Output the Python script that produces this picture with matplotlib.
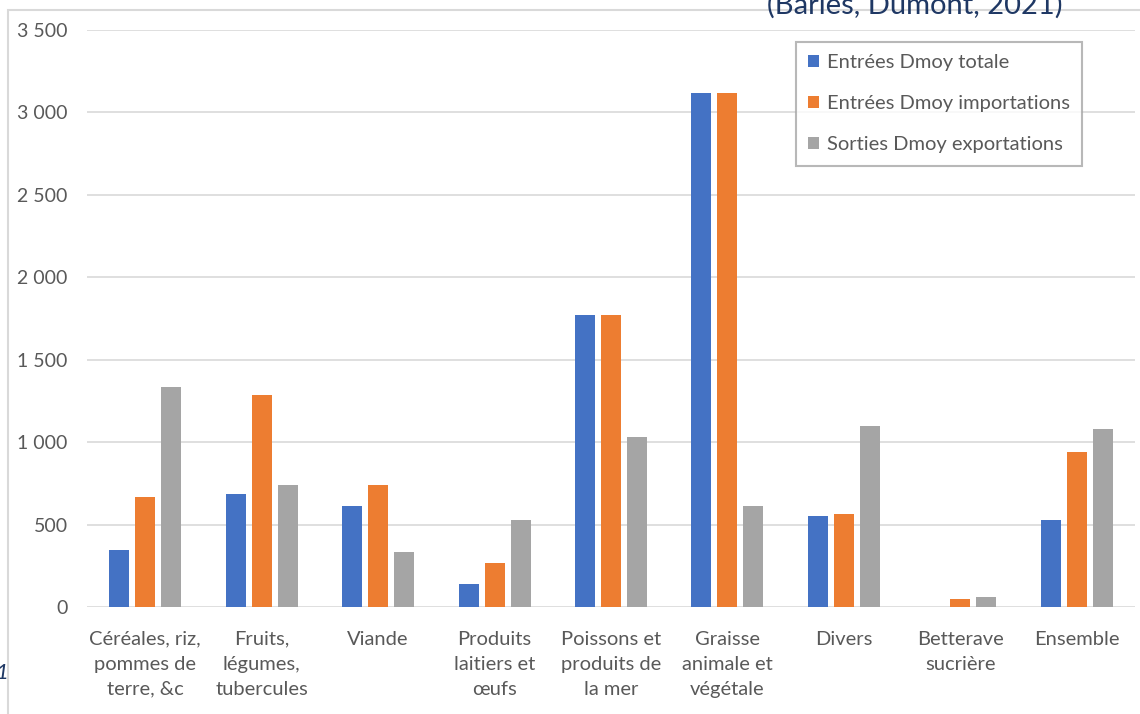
import matplotlib
matplotlib.use("Agg")
import matplotlib.pyplot as plt
from matplotlib.patches import Rectangle
from matplotlib.ticker import FuncFormatter
import numpy as np

plt.rcParams['font.family'] = ['Lato', 'DejaVu Sans']

categories = [
    "Céréales, riz,\npommes de\nterre, &c",
    "Fruits,\nlégumes,\ntubercules",
    "Viande",
    "Produits\nlaitiers et\nœufs",
    "Poissons et\nproduits de\nla mer",
    "Graisse\nanimale et\nvégétale",
    "Divers",
    "Betterave\nsucrière",
    "Ensemble",
]
entrees_totale = [345, 688, 612, 142, 1772, 3115, 555, 0, 528]
entrees_importations = [668, 1287, 741, 264, 1772, 3115, 563, 51, 940]
sorties_exportations = [1332, 741, 336, 530, 1033, 613, 1097, 61, 1080]
series_labels = ["Entrées Dmoy totale", "Entrées Dmoy importations",
                 "Sorties Dmoy exportations"]
series_colors = ["#4472C4", "#ED7D31", "#A5A5A5"]
y_ticks = [0, 500, 1000, 1500, 2000, 2500, 3000, 3500]

W, H = 1140, 714
fig = plt.figure(figsize=(W / 100, H / 100), dpi=100)

# chart-area frame (partly outside the canvas)
fig.patches.append(Rectangle((8 / W, -0.1), 1.2, 1 - 10 / H + 0.1,
                             transform=fig.transFigure, fill=False,
                             edgecolor="#d9d9d9", linewidth=1.5))

ax = fig.add_axes([87 / W, 1 - 607 / H, (1135 - 87) / W, (607 - 30) / H])
x = np.arange(len(categories))
step = 0.223
width = 0.172
for i, (vals, lab, col) in enumerate(zip(
        [entrees_totale, entrees_importations, sorties_exportations],
        series_labels, series_colors)):
    ax.bar(x + (i - 1) * step, vals, width=width, color=col, label=lab, zorder=3)

ax.set_xlim(-0.5, len(categories) - 0.5)
ax.set_ylim(0, 3500)
ax.set_yticks(y_ticks)
ax.yaxis.set_major_formatter(FuncFormatter(
    lambda v, p: f"{int(v):,}".replace(",", " ")))
ax.grid(axis="y", color="#d9d9d9", linewidth=1.2, zorder=0)
for s in ax.spines.values():
    s.set_visible(False)
ax.tick_params(axis="y", length=0, pad=14, labelsize=14, labelcolor="#595959")
ax.set_xticks(x)
ax.set_xticklabels(categories, fontsize=14.5, color="#595959", linespacing=1.58)
ax.tick_params(axis="x", length=0, pad=17)

leg = ax.legend(loc="upper right", bbox_to_anchor=(1082 / W, 1 - 42 / H),
                bbox_transform=fig.transFigure, frameon=True, fancybox=False,
                fontsize=14.5, labelcolor="#595959", handlelength=0.55,
                handleheight=0.55, handletextpad=0.4, labelspacing=1.2,
                borderpad=0.6, borderaxespad=0)
leg.get_frame().set_edgecolor("#a6a6a6")
leg.get_frame().set_linewidth(1.5)

fig.text(915 / W, 1 - 14 / H, "(Barles, Dumont, 2021)", ha="center",
         va="baseline", fontsize=21, color="#1F3864")
fig.text(9 / W, 1 - 679 / H, "1", ha="right", va="baseline", fontsize=16,
         style="italic", color="#1F3864")

fig.savefig("out.png", dpi=100)
